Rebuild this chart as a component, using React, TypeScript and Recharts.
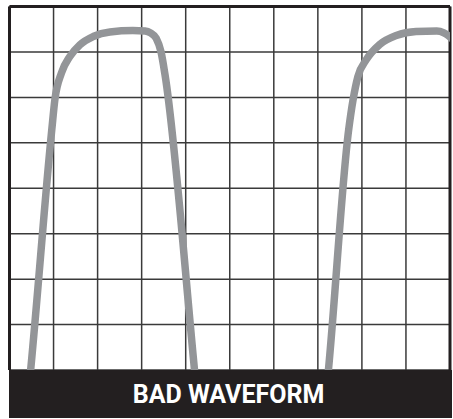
import React from "react";
import { LineChart, Line, XAxis, YAxis, CartesianGrid, ReferenceLine } from "recharts";

// grid divisions (x: 10 columns, y: 8 rows)
const gridX = [0, 1, 2, 3, 4, 5, 6, 7, 8, 9, 10];
const gridY = [0, 1, 2, 3, 4, 5, 6, 7, 8];

// first pulse in grid units
const pulse1X = [0.43, 0.48, 0.96, 1.03, 1.18, 1.37, 1.6, 1.9, 2.28, 2.8, 3.08, 3.2, 3.33, 3.44, 3.53, 4.2, 4.25];
const pulse1Y = [-0.5, 0, 5.29, 5.95, 6.54, 6.9, 7.16, 7.34, 7.44, 7.47, 7.46, 7.42, 7.3, 7.0, 6.5, 0, -0.5];

// second pulse, cut off by the right edge
const pulse2X = [7.19, 7.24, 7.7, 7.8, 7.91, 8.1, 8.4, 8.78, 9.23, 9.7, 9.86, 9.96, 10.05];
const pulse2Y = [-0.5, 0, 5.29, 5.95, 6.46, 6.83, 7.16, 7.36, 7.45, 7.46, 7.42, 7.36, 7.28];

const caption = "BAD WAVEFORM";

const toRows = (xs: number[], ys: number[]) => xs.map((x, i) => ({ x, y: ys[i] }));

const pulse1 = toRows(pulse1X, pulse1Y);
const pulse2 = toRows(pulse2X, pulse2Y);

const WAVE = "#939598";
const INK = "#231f20";

export default function App() {
  return (
    <div style={{ position: "absolute", left: 0, top: 0, width: 453, height: 419, background: "#fff" }}>
      <LineChart
        width={453}
        height={419}
        margin={{ top: 6.5, right: 3, bottom: 49, left: 9.5 }}
      >
        <CartesianGrid stroke="#3a3a3a" strokeWidth={1.5} />
        <XAxis
          type="number"
          dataKey="x"
          domain={[0, 10]}
          ticks={gridX}
          allowDataOverflow
          hide
        />
        <YAxis type="number" domain={[0, 8]} ticks={gridY} allowDataOverflow hide />
        <ReferenceLine y={8} stroke={INK} strokeWidth={3} />
        <ReferenceLine x={0} stroke={INK} strokeWidth={3} />
        <ReferenceLine x={10} stroke={INK} strokeWidth={3} />
        <Line
          data={pulse1}
          dataKey="y"
          type="monotone"
          stroke={WAVE}
          strokeWidth={7.5}
          dot={false}
          activeDot={false}
          isAnimationActive={false}
        />
        <Line
          data={pulse2}
          dataKey="y"
          type="monotone"
          stroke={WAVE}
          strokeWidth={7.5}
          dot={false}
          activeDot={false}
          isAnimationActive={false}
        />
      </LineChart>
      <div
        style={{
          position: "absolute",
          left: 8.5,
          top: 370,
          width: 443,
          height: 48,
          background: INK,
          color: "#fff",
          fontFamily: "Roboto, sans-serif",
          fontWeight: 700,
          fontSize: 25,
          display: "flex",
          alignItems: "center",
          justifyContent: "center",
          paddingRight: 3,
          boxSizing: "border-box",
        }}
      >
        {caption}
      </div>
    </div>
  );
}
